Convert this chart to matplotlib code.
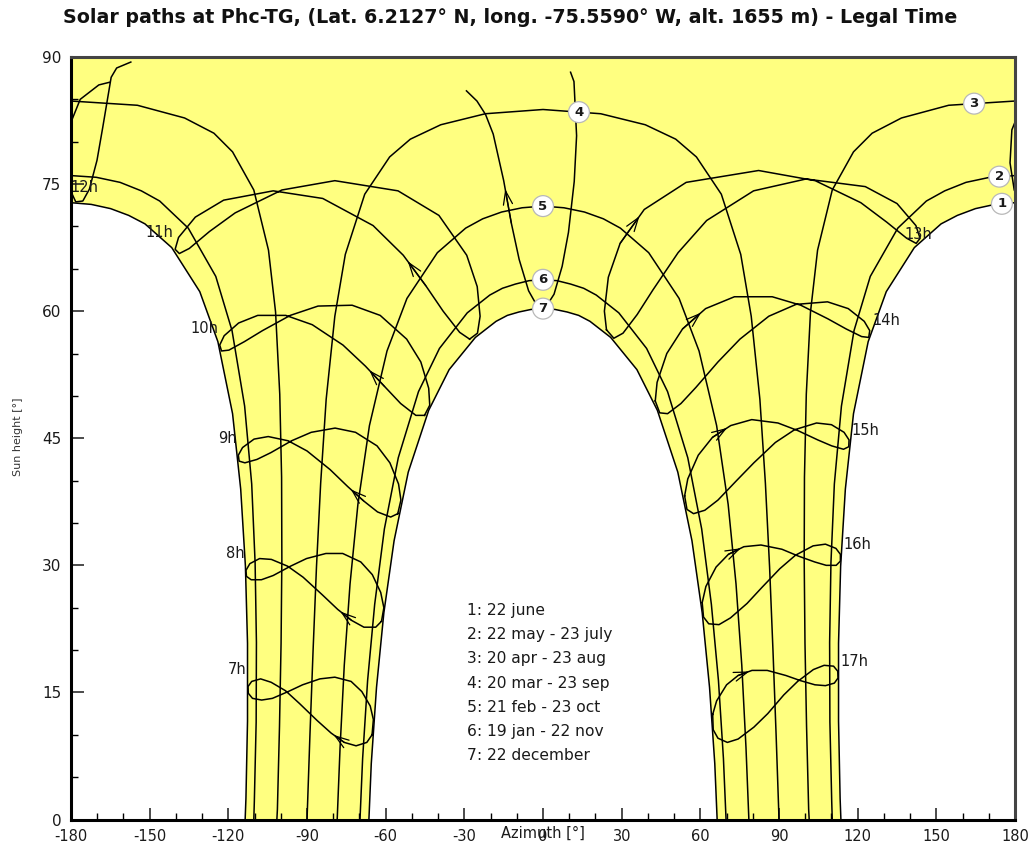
import numpy as np
import matplotlib
matplotlib.use('Agg')
import matplotlib.pyplot as plt

plt.rcParams['font.family'] = ['DejaVu Sans']
plt.rcParams['axes.unicode_minus'] = False

# ---------------------------------------------------------------- data
TITLE = "Solar paths at Phc-TG, (Lat. 6.2127° N, long. -75.5590° W, alt. 1655 m) - Legal Time"
X_LABEL = "Azimuth [°]"
Y_LABEL = "Sun height [°]"
DATE_LEGEND = ["1: 22 june", "2: 22 may - 23 july", "3: 20 apr - 23 aug",
               "4: 20 mar - 23 sep", "5: 21 feb - 23 oct", "6: 19 jan - 22 nov",
               "7: 22 december"]

# date curves: morning half, sunrise -> solar noon (azimuth, sun height)
D1_AZ = [-113.6, -113.3, -112.7, -112.7, -113.5, -115.3, -118.4, -124.0, -130.9, -141.6, -151.8, -158.0, -164.9, -172.3, -180.0]
D1_H = [0.0, 2.5, 11.6, 20.8, 29.9, 39.0, 47.9, 56.4, 62.3, 67.5, 70.3, 71.3, 72.1, 72.6, 72.8]
D2_AZ = [-110.3, -110.1, -109.4, -109.3, -109.8, -111.1, -113.8, -118.6, -124.8, -135.3, -146.2, -153.2, -161.3, -170.4, -180.0]
D2_H = [0.0, 2.1, 11.5, 20.9, 30.3, 39.6, 48.8, 57.7, 64.1, 69.8, 73.0, 74.2, 75.2, 75.8, 76.0]
D3_AZ = [-101.5, -101.3, -100.5, -99.9, -99.6, -99.7, -100.4, -102.0, -104.7, -110.3, -118.4, -125.5, -136.7, -154.7, -180.0]
D3_H = [0.0, 1.2, 11.0, 20.8, 30.6, 40.4, 50.2, 59.9, 67.2, 74.3, 78.8, 81.0, 82.8, 84.3, 84.8]
D4_AZ = [-90.0, -88.9, -87.7, -86.4, -84.8, -82.7, -79.4, -75.4, -68.0, -58.5, -50.6, -39.0, -22.0, 0.0]
D4_H = [0.0, 9.9, 19.9, 29.8, 39.7, 49.6, 59.4, 66.7, 73.8, 78.2, 80.3, 82.0, 83.3, 83.8]
D5_AZ = [-78.5, -77.4, -75.8, -73.6, -70.6, -66.2, -59.5, -51.9, -40.3, -29.5, -23.0, -15.8, -8.0, 0.0]
D5_H = [0.0, 8.5, 18.2, 27.8, 37.2, 46.5, 55.3, 61.5, 66.9, 69.8, 70.9, 71.7, 72.2, 72.4]
D6_AZ = [-69.8, -68.8, -66.9, -64.2, -60.5, -55.2, -47.5, -39.5, -28.9, -20.3, -15.5, -10.5, -5.3, 0.0]
D6_H = [0.0, 7.2, 16.4, 25.4, 34.3, 42.7, 50.5, 55.6, 59.8, 61.9, 62.7, 63.2, 63.6, 63.7]
D7_AZ = [-66.4, -65.5, -63.5, -60.7, -56.8, -51.4, -43.6, -35.8, -25.8, -17.9, -13.6, -9.2, -4.6, 0.0]
D7_H = [0.0, 6.6, 15.6, 24.4, 32.9, 41.0, 48.3, 53.1, 56.9, 58.8, 59.5, 59.9, 60.2, 60.3]

# hour lines (legal time): sun position on 1 Jan, 15 Jan, 1 Feb, 15 Feb, ... 15 Dec
H07_AZ = [-65.2, -67.2, -71.3, -75.8, -80.8, -86.2, -92.9, -98.2, -103.7, -107.7, -111.1, -112.5,
          -112.4, -110.8, -107.3, -103.2, -97.2, -91.7, -85.1, -79.4, -73.2, -69.1, -65.9, -64.7]
H07_H = [10.0, 9.1, 8.7, 9.1, 10.2, 11.7, 13.7, 15.2, 16.2, 16.6, 16.3, 15.7,
         14.9, 14.3, 14.1, 14.3, 15.1, 15.9, 16.6, 16.8, 16.3, 15.1, 13.4, 11.8]
H08_AZ = [-61.6, -63.8, -68.3, -73.0, -78.3, -84.1, -91.5, -97.4, -103.6, -108.1, -111.8, -113.3,
          -113.1, -111.3, -107.4, -102.9, -96.3, -90.2, -82.8, -76.4, -69.5, -65.1, -61.9, -60.7]
H08_H = [23.4, 22.7, 22.7, 23.5, 24.8, 26.5, 28.6, 29.9, 30.7, 30.8, 30.2, 29.4,
         28.7, 28.3, 28.3, 28.8, 29.9, 30.8, 31.4, 31.4, 30.4, 28.9, 26.8, 25.0]
H09_AZ = [-55.4, -58.1, -63.1, -68.4, -74.5, -81.2, -90.0, -97.2, -104.8, -110.2, -114.6, -116.2,
          -115.9, -113.7, -109.1, -103.8, -95.9, -88.4, -79.3, -71.5, -63.3, -58.4, -55.1, -54.2]
H09_H = [36.1, 35.7, 36.3, 37.6, 39.3, 41.3, 43.5, 44.7, 45.2, 44.9, 43.9, 43.0,
         42.3, 42.1, 42.5, 43.3, 44.7, 45.7, 46.2, 45.7, 44.1, 42.1, 39.6, 37.7]
H10_AZ = [-45.2, -48.5, -54.3, -60.4, -67.7, -76.3, -88.0, -98.1, -108.8, -116.1, -121.6, -123.3,
          -122.6, -119.8, -113.9, -107.0, -96.4, -85.8, -72.8, -62.1, -52.0, -46.6, -43.6, -43.2]
H10_H = [47.7, 47.7, 49.1, 51.1, 53.5, 56.0, 58.4, 59.5, 59.5, 58.6, 57.1, 56.0,
         55.3, 55.4, 56.4, 57.7, 59.5, 60.6, 60.7, 59.5, 56.7, 54.0, 50.9, 48.9]
H11_AZ = [-28.0, -31.8, -38.1, -44.7, -53.3, -64.8, -84.0, -102.9, -121.8, -132.6, -139.0, -140.3,
          -138.7, -134.9, -127.2, -117.4, -99.6, -79.4, -55.3, -39.7, -29.1, -25.1, -24.0, -25.0]
H11_H = [56.7, 57.5, 60.0, 63.0, 66.6, 70.1, 73.3, 74.2, 73.1, 71.1, 68.7, 67.3,
         66.8, 67.4, 69.4, 71.6, 74.3, 75.4, 74.2, 71.3, 66.6, 62.9, 59.4, 57.4]
H13_AZ = [24.2, 23.4, 24.9, 29.4, 38.6, 54.6, 82.2, 103.8, 121.2, 131.1, 138.7, 142.3,
          143.8, 142.2, 135.0, 122.9, 100.3, 80.3, 62.4, 51.5, 41.9, 35.9, 30.5, 27.0]
H13_H = [57.8, 60.0, 64.0, 68.0, 72.0, 75.2, 76.6, 75.4, 72.8, 70.5, 68.6, 68.0,
         68.6, 70.1, 72.7, 74.7, 75.6, 74.2, 70.7, 66.9, 62.5, 59.6, 57.4, 56.8]
H14_AZ = [42.8, 43.5, 47.2, 53.2, 62.0, 73.0, 87.4, 98.3, 108.6, 115.6, 121.5, 124.2,
          124.6, 122.5, 116.4, 108.5, 96.5, 86.1, 75.1, 66.7, 58.3, 52.6, 47.5, 44.5]
H14_H = [49.4, 51.6, 55.0, 57.9, 60.3, 61.7, 61.7, 60.7, 59.1, 57.9, 57.0, 56.9,
         57.7, 58.8, 60.3, 61.1, 60.8, 59.4, 56.7, 54.0, 51.0, 49.1, 47.9, 48.0]
H15_AZ = [54.0, 55.2, 59.2, 64.6, 71.6, 79.6, 89.6, 97.2, 104.8, 110.1, 114.6, 116.6,
          116.7, 114.8, 110.0, 104.3, 95.9, 88.6, 80.4, 73.8, 66.7, 61.7, 57.4, 54.9]
H15_H = [38.2, 40.2, 43.0, 45.1, 46.5, 47.2, 46.8, 45.9, 44.8, 44.1, 43.7, 44.0,
         44.8, 45.7, 46.6, 46.8, 46.0, 44.5, 42.1, 40.0, 37.7, 36.5, 36.1, 36.6]
H16_AZ = [60.7, 62.1, 66.0, 70.7, 76.6, 83.1, 91.1, 97.3, 103.6, 108.0, 111.8, 113.4,
          113.4, 111.7, 107.7, 103.0, 96.3, 90.3, 83.5, 77.8, 71.5, 67.1, 63.2, 61.2]
H16_H = [25.6, 27.5, 29.8, 31.3, 32.2, 32.4, 31.9, 31.1, 30.4, 30.0, 30.0, 30.5,
         31.3, 32.0, 32.5, 32.3, 31.2, 29.6, 27.4, 25.5, 23.8, 23.0, 23.1, 23.9]
H17_AZ = [64.7, 66.2, 70.0, 74.4, 79.7, 85.5, 92.6, 98.1, 103.7, 107.7, 111.1, 112.5,
          112.4, 110.8, 107.2, 103.1, 97.1, 91.8, 85.7, 80.4, 74.4, 70.3, 66.7, 64.9]
H17_H = [12.4, 14.0, 15.9, 17.0, 17.6, 17.6, 17.0, 16.4, 15.9, 15.8, 16.1, 16.7,
         17.5, 18.1, 18.2, 17.7, 16.3, 14.7, 12.5, 10.9, 9.5, 9.1, 9.6, 10.6]
# 12h line, two visible pieces (mid-Sep -> end of Mar, and mid-Apr -> early Sep)
H12A_AZ = [10.5, 11.8, 12.8, 11.9, 9.7, 7.3, 4.2, 1.3, -2.4, -5.5, -9.1, -12.1, -15.0, -19.0, -21.9, -25.2, -29.2]
H12A_H = [88.2, 87.1, 80.7, 75.3, 69.3, 65.3, 62.0, 60.6, 60.7, 62.4, 66.1, 70.4, 75.4, 80.9, 83.2, 84.8, 86.0]
H12B_AZ = [-165.5, -169.4, -176.5, 178.8, 178.1, 179.7, -178.2, -175.5, -173.0, -170.1, -167.9, -164.7, -162.6, -157.2]
H12B_H = [87.0, 86.7, 85.0, 81.4, 77.5, 74.3, 72.9, 73.0, 74.4, 77.8, 81.7, 87.6, 88.7, 89.4]

DATE_CURVES = [(D1_AZ, D1_H), (D2_AZ, D2_H), (D3_AZ, D3_H), (D4_AZ, D4_H),
               (D5_AZ, D5_H), (D6_AZ, D6_H), (D7_AZ, D7_H)]
HOUR_LINES = {7: (H07_AZ, H07_H), 8: (H08_AZ, H08_H), 9: (H09_AZ, H09_H),
              10: (H10_AZ, H10_H), 11: (H11_AZ, H11_H), 13: (H13_AZ, H13_H),
              14: (H14_AZ, H14_H), 15: (H15_AZ, H15_H), 16: (H16_AZ, H16_H),
              17: (H17_AZ, H17_H)}

# ---------------------------------------------------------------- style
YELLOW = '#ffff80'
LW = 1.1
TXT = '#1a1a1a'
NUM_LABEL_AZ = [175.0, 174.0, 164.4, 13.7, 0.0, 0.0, 0.0]

fig = plt.figure(figsize=(10.31, 8.44), dpi=100)
ax = fig.add_axes([0.0689, 0.0290, 0.9156, 0.9035])
ax.set_xlim(-180, 180)
ax.set_ylim(0, 90)


def full_path(az, h):
    a = list(az) + [-v for v in reversed(az)]
    hh = list(h) + list(reversed(h))
    return np.array(a, float), np.array(hh, float)


def draw(az, h, closed=False, **kw):
    az = np.asarray(az, float)
    h = np.asarray(h, float)
    if closed:
        az = np.append(az, az[0])
        h = np.append(h, h[0])
    az = np.degrees(np.unwrap(np.radians(az)))
    for off in (-360, 0, 360):
        ax.plot(az + off, h, color='black', lw=LW, solid_joinstyle='round', zorder=3, **kw)


# yellow envelope between the 22 june and 22 december paths
fx = (list(D1_AZ) + [-180, 180] + [-v for v in reversed(D1_AZ)]
      + [-v for v in D7_AZ] + list(reversed(D7_AZ)))
fy = (list(D1_H) + [90, 90] + list(reversed(D1_H))
      + list(D7_H) + list(reversed(D7_H)))
ax.fill(fx, fy, color=YELLOW, lw=0, zorder=1)

# date curves
paths = []
for az, h in DATE_CURVES:
    a, hh = full_path(az, h)
    paths.append((a, hh))
    draw(a, hh)

# hour lines
for hr, (az, h) in HOUR_LINES.items():
    draw(az, h, closed=True)
draw(H12A_AZ, H12A_H)
draw(H12B_AZ, H12B_H)


def arrow(az, h, i, j, frac=0.8):
    p0 = np.array([az[i], h[i]], float)
    p1 = np.array([az[j], h[j]], float)
    tip = p0 + frac * (p1 - p0)
    ax.annotate('', xy=tip, xytext=p0, zorder=4,
                arrowprops=dict(arrowstyle='->,head_length=0.65,head_width=0.22',
                                lw=0.9, color='black', shrinkA=0, shrinkB=0,
                                mutation_scale=15))


for hr, (az, h) in HOUR_LINES.items():
    arrow(az, h, 3, 4)
arrow(H12A_AZ, H12A_H, 11, 12)

# hour labels
for hr, (az, h) in HOUR_LINES.items():
    if hr < 12:
        ax.annotate(f"{hr}h", (az[11], h[11]), xytext=(-1, 12), textcoords='offset points',
                    ha='right', va='center', fontsize=10.5, zorder=5, color=TXT)
    elif hr == 13:
        ax.annotate(f"{hr}h", (az[12], h[12]), xytext=(-11, 3), textcoords='offset points',
                    ha='left', va='center', fontsize=10.5, zorder=5, color=TXT)
    else:
        ax.annotate(f"{hr}h", (az[12], h[12]), xytext=(2, 7), textcoords='offset points',
                    ha='left', va='center', fontsize=10.5, zorder=5, color=TXT)
ax.annotate("12h", (H12B_AZ[6], H12B_H[6]), xytext=(-3.5, 10), textcoords='offset points',
            ha='left', va='center', fontsize=10.5, zorder=5, color=TXT)

# numbered circles on date curves
for k, ((a, hh), laz) in enumerate(zip(paths, NUM_LABEL_AZ)):
    order = np.argsort(a)
    hy = np.interp(laz, a[order], hh[order])
    ax.text(laz, hy, str(k + 1), ha='center', va='center', fontsize=9.5,
            fontweight='bold', zorder=6, color=TXT,
            bbox=dict(boxstyle='circle,pad=0.3', fc='white', ec='#b8b8b8', lw=0.9))

# legend of dates
for k, s in enumerate(DATE_LEGEND):
    ax.text(-29.1, 24.65 - k * 2.85, s, ha='left', va='center', fontsize=11.2,
            color=TXT, zorder=6)

# axes styling
ax.set_xticks(np.arange(-180, 181, 30))
ax.set_xticks(np.arange(-180, 181, 10), minor=True)
ax.set_yticks(np.arange(0, 91, 15))
ax.set_yticks(np.arange(0, 91, 5), minor=True)
ax.tick_params(which='major', direction='in', length=9, width=1.1, labelsize=11,
               colors=TXT, pad=5)
ax.tick_params(which='minor', direction='in', length=5, width=1.0)
ax.tick_params(axis='x', which='major', pad=6.5, labelsize=10.5)
ax.tick_params(axis='y', which='major', pad=7)
for s in ('left', 'bottom'):
    ax.spines[s].set_linewidth(2.2)
    ax.spines[s].set_color('black')
for s in ('top', 'right'):
    ax.spines[s].set_linewidth(2.2)
    ax.spines[s].set_color('#444444')
for s in ax.spines.values():
    s.set_zorder(7)

fig.text(0.4947, 0.9787, TITLE, ha='center', va='center', fontsize=13.7,
         fontweight='bold', color='#111111')
fig.text(0.527, 0.0130, X_LABEL, ha='center', va='center', fontsize=10.5, color=TXT)
fig.text(0.0175, 0.482, Y_LABEL, ha='center', va='center', rotation=90, fontsize=8,
         color='#333333')

fig.savefig('out.png', dpi=100, facecolor='white')
